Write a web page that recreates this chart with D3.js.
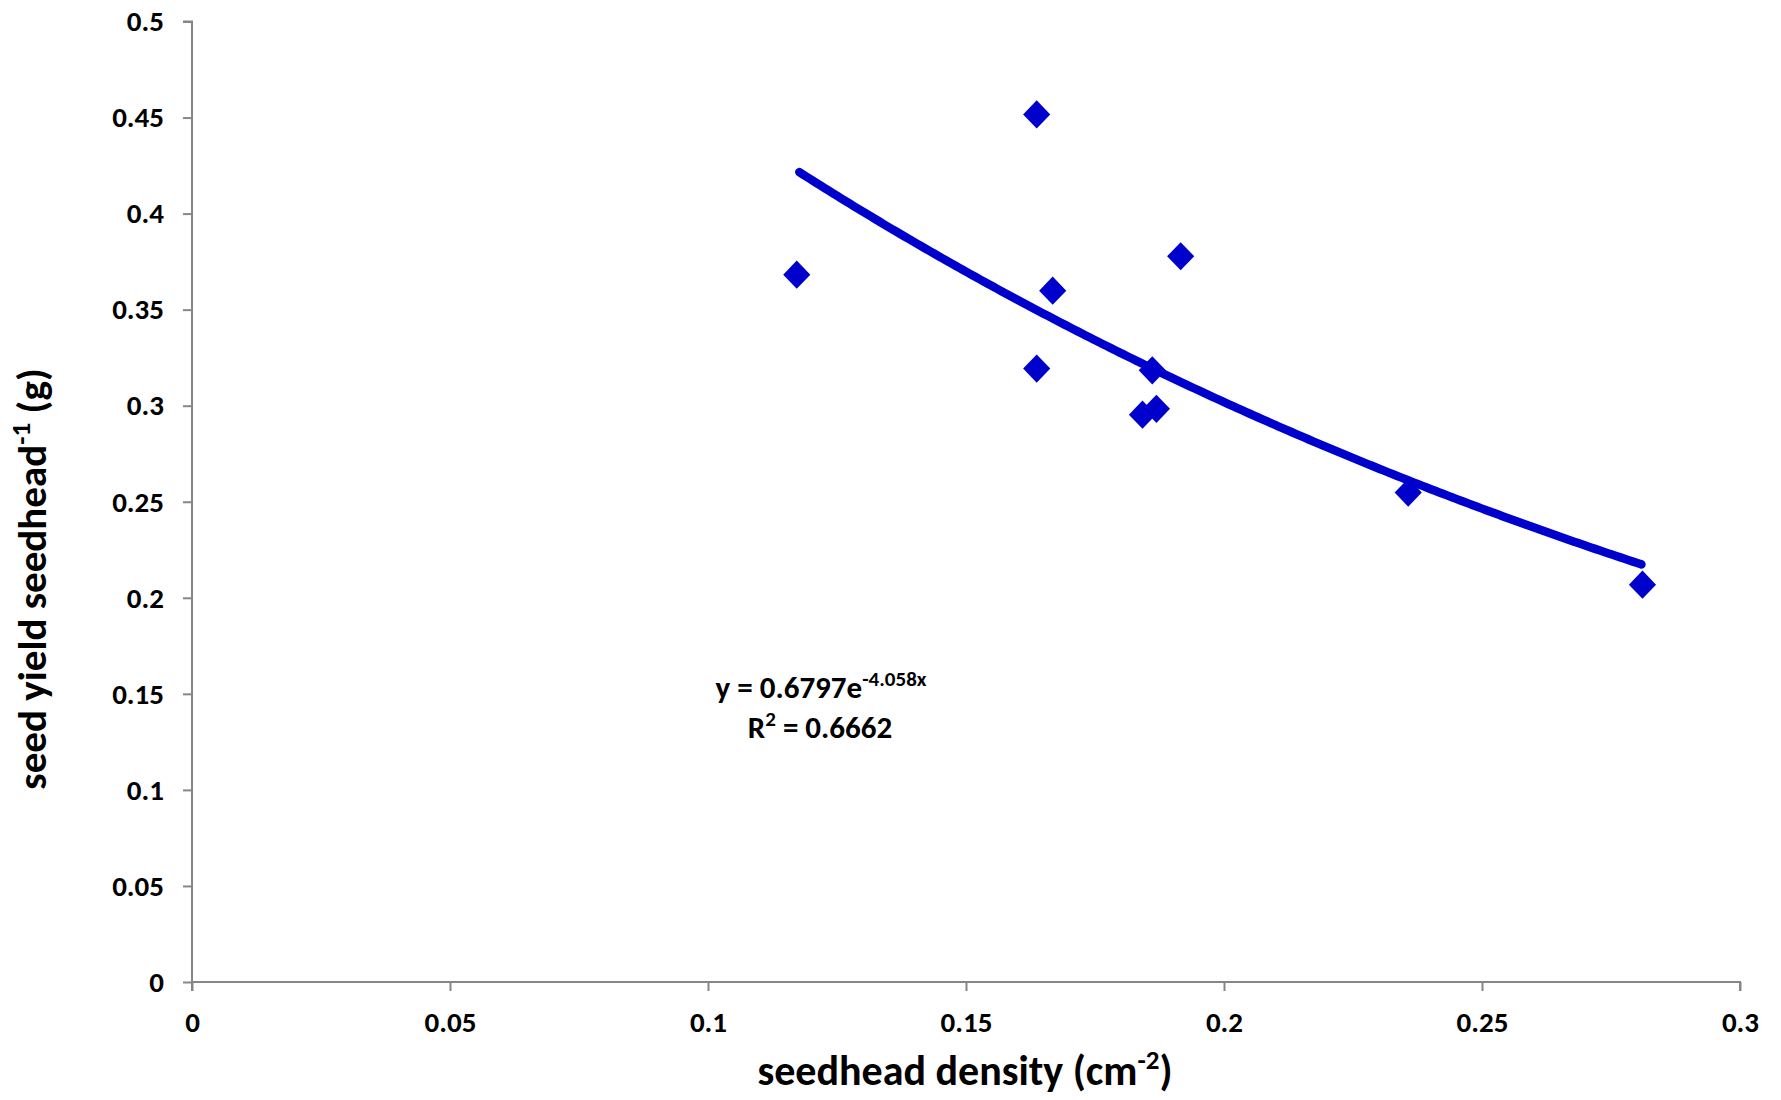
<!DOCTYPE html>
<html>
<head>
<meta charset="utf-8">
<script src="https://cdn.jsdelivr.net/npm/d3@7"></script>
<style>
  html, body { margin: 0; padding: 0; background: #fff; }
  svg text { font-family: Carlito, Calibri, Lato, "Open Sans", sans-serif; font-weight: bold; fill: #000; }
</style>
</head>
<body>
<svg id="chart" width="1781" height="1100"></svg>
<script>
// ---- data ----
const densityX = [0.1172, 0.1637, 0.1668, 0.1916, 0.1637, 0.1861, 0.1842, 0.1869, 0.2357, 0.2811];
const yieldY   = [0.3682, 0.4516, 0.3599, 0.3778, 0.3193, 0.3184, 0.2953, 0.2984, 0.2548, 0.2068];
const xTicks = [0, 0.05, 0.1, 0.15, 0.2, 0.25, 0.3];
const yTicks = [0, 0.05, 0.1, 0.15, 0.2, 0.25, 0.3, 0.35, 0.4, 0.45, 0.5];
const fitCoef = [0.6797, -4.058];       // y = a * e^(b x)
const fitRange = [0.1177, 0.2809];
const eqLabel = ["y = 0.6797e", "-4.058x"];
const r2Label = ["R", "2", " = 0.6662"];
const xTitle = ["seedhead density (cm", "-2", ")"];
const yTitle = ["seed yield seedhead", "-1", " (g)"];

// ---- layout ----
const svg = d3.select("#chart");
const x = d3.scaleLinear().domain([0, 0.3]).range([192, 1740]);
const y = d3.scaleLinear().domain([0, 0.5]).range([982, 21.5]);
const axisColor = "#868686";
const markColor = "#0000CC";

// axes
const xAxis = svg.append("g").attr("transform", `translate(0,${y(0)})`)
  .call(d3.axisBottom(x).tickValues(xTicks).tickFormat(d => d3.format("")(d)).tickSize(9).tickPadding(20));
const yAxis = svg.append("g").attr("transform", `translate(${x(0)},0)`)
  .call(d3.axisLeft(y).tickValues(yTicks).tickFormat(d => d3.format("")(d)).tickSize(9).tickPadding(19));
[xAxis, yAxis].forEach(g => {
  g.select(".domain").attr("stroke", axisColor).attr("stroke-width", 2);
  g.selectAll(".tick line").attr("stroke", axisColor).attr("stroke-width", 2);
  g.selectAll(".tick text").style("font-size", "29px").attr("fill", "#000");
});
xAxis.select(".domain").attr("d", `M${x(0)},0H${x(0.3)}V9`);
yAxis.select(".domain").attr("d", `M-9,${y(0.5)}H0V${y(0) + 9}`);

// trendline
const fitPts = d3.range(0, 201).map(i => {
  const xv = fitRange[0] + (fitRange[1] - fitRange[0]) * i / 200;
  return [xv, fitCoef[0] * Math.exp(fitCoef[1] * xv)];
});
svg.append("path")
  .datum(fitPts)
  .attr("d", d3.line().x(d => x(d[0])).y(d => y(d[1])))
  .attr("fill", "none")
  .attr("stroke", markColor)
  .attr("stroke-width", 8.5)
  .attr("stroke-linecap", "round")
  .attr("stroke-linejoin", "round");

// points
const diamond = d3.symbol().type(d3.symbolDiamond2).size(470);
svg.append("g").selectAll("path")
  .data(densityX.map((d, i) => [d, yieldY[i]]))
  .join("path")
  .attr("d", diamond)
  .attr("transform", d => `translate(${x(d[0])},${y(d[1])}) scale(1,1.04)`)
  .attr("fill", markColor);

// equation
const eq = svg.append("text").attr("x", 821).attr("y", 698).attr("text-anchor", "middle").style("font-size", "31px");
eq.append("tspan").text(eqLabel[0]);
eq.append("tspan").attr("dy", -12).style("font-size", "21px").text(eqLabel[1]);
const r2 = svg.append("text").attr("x", 820).attr("y", 738).attr("text-anchor", "middle").style("font-size", "31px");
r2.append("tspan").text(r2Label[0]);
r2.append("tspan").attr("dy", -12).style("font-size", "21px").text(r2Label[1]);
r2.append("tspan").attr("dy", 12).text(r2Label[2]);

// axis titles
const xt = svg.append("text").attr("x", 965).attr("y", 1085).attr("text-anchor", "middle").style("font-size", "42px");
xt.append("tspan").text(xTitle[0]);
xt.append("tspan").attr("dy", -16).style("font-size", "27px").text(xTitle[1]);
xt.append("tspan").attr("dy", 16).text(xTitle[2]);

const yt = svg.append("text").attr("transform", "translate(46,579) rotate(-90)").attr("text-anchor", "middle").style("font-size", "41px");
yt.append("tspan").text(yTitle[0]);
yt.append("tspan").attr("dy", -16).style("font-size", "27px").text(yTitle[1]);
yt.append("tspan").attr("dy", 16).text(yTitle[2]);
</script>
</body>
</html>
